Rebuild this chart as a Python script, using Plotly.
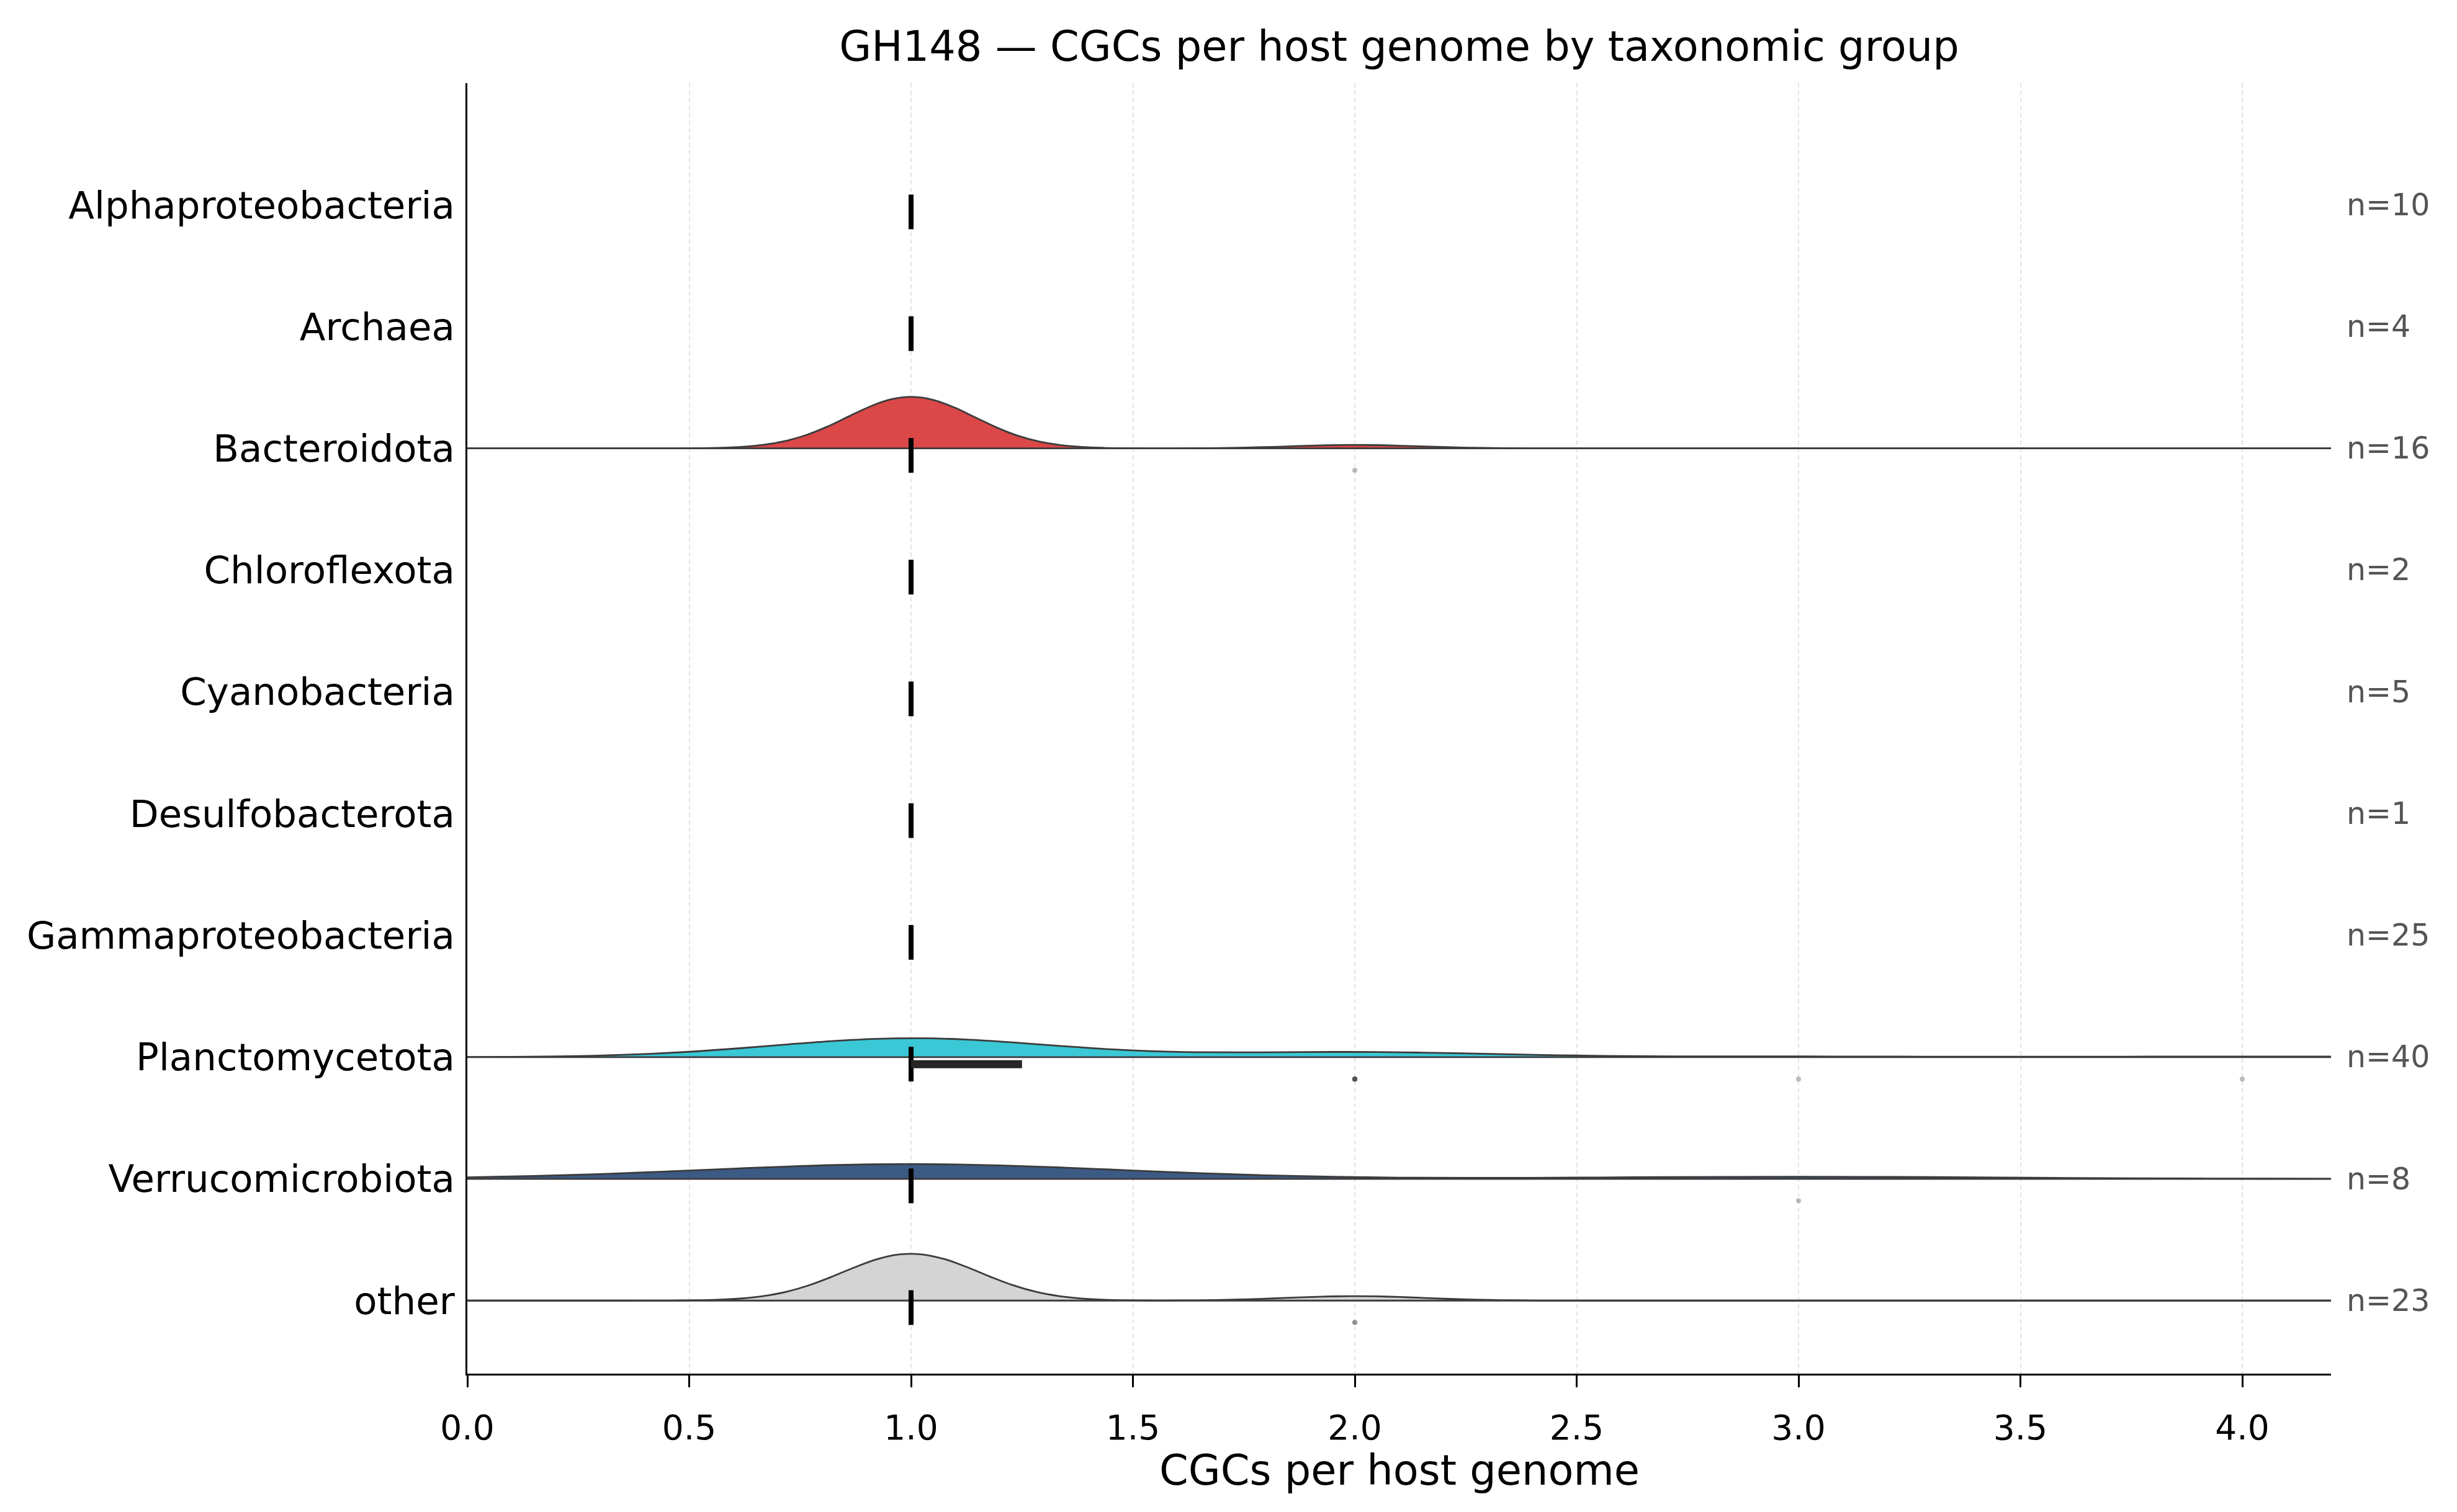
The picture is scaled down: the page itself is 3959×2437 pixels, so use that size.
import numpy as np
import plotly.graph_objects as go

# ---------------- data ----------------
categories = ["Alphaproteobacteria", "Archaea", "Bacteroidota", "Chloroflexota",
              "Cyanobacteria", "Desulfobacterota", "Gammaproteobacteria",
              "Planctomycetota", "Verrucomicrobiota", "other"]

alphaproteobacteria = [1, 1, 1, 1, 1, 1, 1, 1, 1, 1]
archaea = [1, 1, 1, 1]
bacteroidota = [1, 1, 1, 1, 1, 1, 1, 1, 1, 1, 1, 1, 1, 1, 1, 2]
chloroflexota = [1, 1]
cyanobacteria = [1, 1, 1, 1, 1]
desulfobacterota = [1]
gammaproteobacteria = [1, 1, 1, 1, 1, 1, 1, 1, 1, 1, 1, 1, 1, 1, 1, 1, 1, 1, 1, 1,
                       1, 1, 1, 1, 1]
planctomycetota = [1, 1, 1, 1, 1, 1, 1, 1, 1, 1, 1, 1, 1, 1, 1, 1, 1, 1, 1, 1,
                   1, 1, 1, 1, 1, 1, 1, 1, 1, 1, 2, 2, 2, 2, 2, 2, 2, 2, 3, 4]
verrucomicrobiota = [1, 1, 1, 1, 1, 1, 1, 3]
other = [1, 1, 1, 1, 1, 1, 1, 1, 1, 1, 1, 1, 1, 1, 1, 1, 1, 1, 1, 1, 1, 2, 2]

group_values = [alphaproteobacteria, archaea, bacteroidota, chloroflexota,
                cyanobacteria, desulfobacterota, gammaproteobacteria,
                planctomycetota, verrucomicrobiota, other]

fill_colors = {
    "Bacteroidota": "rgba(214,39,40,0.85)",
    "Planctomycetota": "rgba(23,190,207,0.85)",
    "Verrucomicrobiota": "rgba(25,61,111,0.85)",
    "other": "rgba(204,204,204,0.85)",
}

x_ticks = [0.0, 0.5, 1.0, 1.5, 2.0, 2.5, 3.0, 3.5, 4.0]
x_range = [0.0, 4.2]
y_range = [-0.6, 10.0]

TITLE = "GH148 \u2014 CGCs per host genome by taxonomic group"
X_TITLE = "CGCs per host genome"
FONT = "DejaVu Sans"
OUTLINE = "#3c3c3c"

# ---------------- figure ----------------
fig = go.Figure()
n_cat = len(categories)
positions = [n_cat - 1 - i for i in range(n_cat)]

base_x, base_y = [], []
med_x, med_y = [], []
iqr_x, iqr_y = [], []
out_x, out_y = [], []

for cat, vals, pos in zip(categories, group_values, positions):
    arr = np.asarray(vals, dtype=float)
    med = float(np.median(arr))
    q1, q3 = np.percentile(arr, [25, 75])
    iqr = q3 - q1
    lo, hi = q1 - 1.5 * iqr, q3 + 1.5 * iqr

    med_x += [med, med, None]
    med_y += [pos - 0.2, pos + 0.085, None]

    if q3 > q1:
        iqr_x += [q1, q3, None]
        iqr_y += [pos - 0.058, pos - 0.058, None]

    for v in arr:
        if v < lo or v > hi:
            out_x.append(v)
            out_y.append(pos - 0.18)

    if np.ptp(arr) > 0:
        bw = float(np.std(arr, ddof=1) * len(arr) ** (-0.2))  # Scott's rule
        fig.add_trace(go.Violin(
            x=vals, y0=pos, orientation="h", side="positive",
            spanmode="manual", span=x_range, bandwidth=bw,
            scalegroup="ridges", scalemode="width",
            points=False, box_visible=False, meanline_visible=False,
            fillcolor=fill_colors.get(cat, "rgba(204,204,204,0.85)"),
            line=dict(color=OUTLINE, width=2.8),
            hoverinfo="skip", showlegend=False, name=cat,
        ))
        base_x += [x_range[0], x_range[1], None]
        base_y += [pos, pos, None]

fig.add_trace(go.Scatter(x=base_x, y=base_y, mode="lines",
                         line=dict(color=OUTLINE, width=2.8),
                         hoverinfo="skip", showlegend=False))
fig.add_trace(go.Scatter(x=med_x, y=med_y, mode="lines",
                         line=dict(color="black", width=8),
                         hoverinfo="skip", showlegend=False))
fig.add_trace(go.Scatter(x=iqr_x, y=iqr_y, mode="lines",
                         line=dict(color="#262626", width=13),
                         hoverinfo="skip", showlegend=False))
fig.add_trace(go.Scatter(x=out_x, y=out_y, mode="markers",
                         marker=dict(color="rgba(80,80,80,0.38)", size=8,
                                     line=dict(width=0)),
                         hoverinfo="skip", showlegend=False))

for cat, vals, pos in zip(categories, group_values, positions):
    fig.add_annotation(x=1, xref="paper", y=pos, yref="y",
                       text=f"n={len(vals)}", showarrow=False,
                       xanchor="left", yanchor="middle", xshift=23,
                       font=dict(family=FONT, size=49, color="#555555"))

# x-axis title
fig.add_annotation(x=0.5, xref="paper", y=0, yref="paper",
                   text=X_TITLE, showarrow=False,
                   xanchor="center", yanchor="middle", yshift=-156,
                   font=dict(family=FONT, size=67, color="black"))

fig.update_layout(
    width=3959, height=2437,
    margin=dict(l=745, r=211, t=126, b=231),
    paper_bgcolor="white", plot_bgcolor="white",
    font=dict(family=FONT, color="black"),
    violinmode="overlay", violingap=0.154, violingroupgap=0,
    showlegend=False,
    title=dict(text=TITLE, x=0.5, xref="paper", xanchor="center",
               y=1 - 67 / 2437, yref="container", yanchor="middle",
               font=dict(family=FONT, size=67, color="black")),
)

fig.update_xaxes(
    range=x_range, tickvals=x_ticks, ticktext=[f"{t:.1f}" for t in x_ticks],
    showgrid=True, gridcolor="#e3e3e3", gridwidth=2, griddash="7px,5px",
    zeroline=False, showline=True, linecolor="black", linewidth=3,
    ticks="outside", ticklen=19, tickwidth=3, tickcolor="black",
    ticklabelstandoff=18,
    tickfont=dict(family=FONT, size=55, color="black"),
)
fig.update_yaxes(
    type="linear", range=y_range, tickvals=positions, ticktext=categories,
    showgrid=False, zeroline=False, showline=True, linecolor="black", linewidth=3,
    ticks="", ticklabelstandoff=5,
    tickfont=dict(family=FONT, size=61, color="black"),
)

fig.write_html("out.html")
